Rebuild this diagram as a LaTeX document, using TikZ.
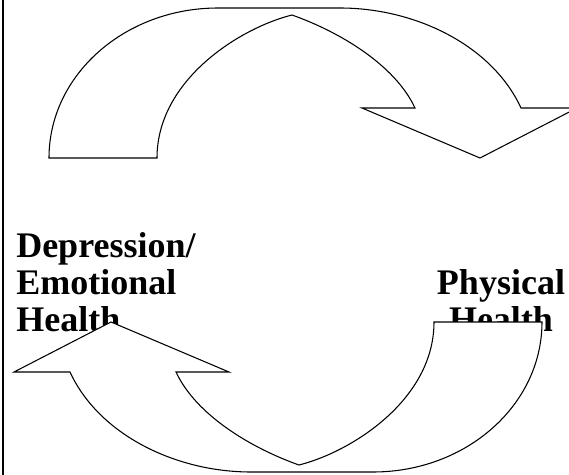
\documentclass[tikz,border=0pt]{standalone}
\usepackage{fontspec}
\setmainfont{Liberation Serif}

\begin{document}
\begin{tikzpicture}[x=0.75pt, y=-0.75pt,
  bendarrow/.style={draw=black, fill=white, line width=0.8pt, line join=miter},
  healthlabel/.style={font=\fontsize{27}{27.75}\selectfont\bfseries, inner sep=0pt},
]
\useasboundingbox (0,0) rectangle (569,475);
% rule on the left edge
\draw[line width=1.6pt] (3,0) -- (3,475);
% labels first, the arrows lie over them
\node[healthlabel, align=left, anchor=base west] (emo) at (16,331) {Depression/\\Emotional\\Health};
\node[healthlabel, align=center, anchor=base] (phys) at (501,331) {Physical\\Health};
% the two bent arrows (the lower one is the upper one turned round)
\coordinate (mid) at (295.5,240);
\foreach \turn in {0,180} {
  \draw[bendarrow, rotate around={\turn:(mid)}]
    (49,158) -- (157,158)
    .. controls (157,80) and (240,28) .. (292,15)
    .. controls (340,32) and (395,65) .. (415,108)
    -- (362,108) -- (480,158) -- (577,108) -- (521,108)
    .. controls (492,45) and (415,8) .. (340,8)
    -- (218,8)
    .. controls (124.7,8) and (49,75) .. (49,158) -- cycle;
}
\end{tikzpicture}
\end{document}
